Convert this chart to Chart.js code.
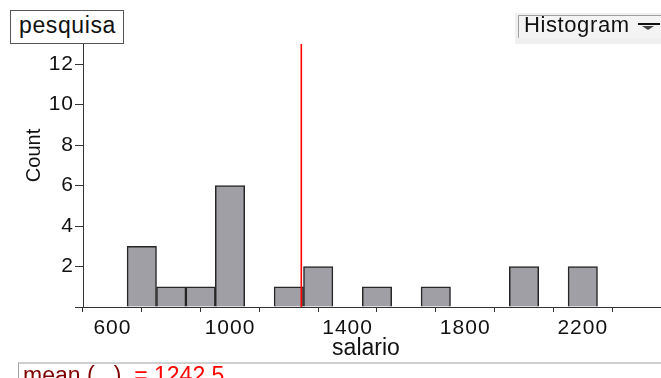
<!DOCTYPE html>
<html>
<head>
<meta charset="utf-8">
<title>pesquisa – salario</title>
<script src="https://cdn.jsdelivr.net/npm/chart.js@4/dist/chart.umd.min.js"></script>
<style>
  html, body { margin: 0; padding: 0; background: #fff; overflow: hidden; }
  body { width: 661px; height: 378px; position: relative; font-family: "Liberation Sans", Arial, sans-serif; }
  #wrap { position: absolute; left: 0; top: 0; width: 661px; height: 378px; }
  #dataset-name {
    position: absolute; left: 10px; top: 10px; width: 114px; height: 34px;
    box-sizing: border-box; border: 1px solid #555; background: #fff;
    padding-left: 8px; font-size: 23px; line-height: 29px; letter-spacing: 0.6px; color: #111;
  }
  #type-panel {
    position: absolute; left: 515px; top: 13px; width: 146px; height: 31px; background: #f0f0f0;
  }
  #type-box {
    position: absolute; left: 3px; top: 2px; width: 160px; height: 23px; box-sizing: border-box;
    border-top: 1px solid #a0a0a0; border-left: 1px solid #a0a0a0; background: #f4f4f4;
    padding-left: 5px; font-size: 22px; line-height: 17px; letter-spacing: 0.6px; color: #111;
  }
  #type-icon { position: absolute; left: 123px; top: 10px; }
  #summary {
    position: absolute; left: 18px; top: 362px; width: 660px; height: 30px; box-sizing: border-box;
    border-top: 2px solid #cfcfcf; border-left: 1px solid #a0a0a0;
    padding-left: 4px; font-size: 23px; line-height: 23px; white-space: pre;
  }
  #summary .fn { color: #800000; }
  #summary .val { color: #ff0000; }
</style>
</head>
<body>
<div id="wrap"><canvas id="chart"></canvas></div>
<div id="dataset-name">pesquisa</div>
<div id="type-panel">
  <div id="type-box">Histogram</div>
  <svg id="type-icon" width="24" height="10" viewBox="0 0 24 10">
    <rect x="0" y="0" width="22" height="2" fill="#111"></rect>
    <polygon points="4,3 16,3 10,7" fill="#444"></polygon>
  </svg>
</div>
<div id="summary"><span class="fn">mean (   )</span>  <span class="val" id="mean-text"></span></div>

<script>
// Salary histogram: lower edge of each non-empty bin and its count
const binLow = [650, 750, 850, 950, 1150, 1250, 1450, 1650, 1950, 2150];
const counts = [3, 1, 1, 6, 1, 2, 1, 1, 2, 2];
const binWidth = 100;
const meanValue = 1242.5;

// Axis ticks and their labels
const xTicks = [600, 800, 1000, 1200, 1400, 1600, 1800, 2000, 2200, 2400];
const xTickLabels = ['600', '', '1000', '', '1400', '', '1800', '', '2200', ''];
const yTicks = [0, 2, 4, 6, 8, 10, 12];
const yTickLabels = ['', '2', '4', '6', '8', '10', '12'];

const xTitle = 'salario';
const yTitle = 'Count';

document.getElementById('mean-text').textContent = '= ' + meanValue;

const FONT = '"Liberation Sans", Arial, sans-serif';
const AXIS_COLOR = '#333';

// Slightly looser tracking for the tick labels
const tracking = {
  id: 'tracking',
  beforeDraw(chart) { chart.ctx.letterSpacing = '1px'; }
};

// Vertical red line at the mean
const meanLine = {
  id: 'meanLine',
  afterDatasetsDraw(chart) {
    const { ctx, chartArea, scales } = chart;
    const x = scales.x.getPixelForValue(meanValue);
    ctx.save();
    ctx.strokeStyle = '#ff0000';
    ctx.lineWidth = 1.6;
    ctx.beginPath();
    ctx.moveTo(x, chartArea.top);
    ctx.lineTo(x, chartArea.bottom);
    ctx.stroke();
    ctx.restore();
  }
};

// Axis titles
const axisTitles = {
  id: 'axisTitles',
  afterDraw(chart) {
    const { ctx, chartArea } = chart;
    ctx.save();
    ctx.letterSpacing = '0px';
    ctx.fillStyle = '#111';
    ctx.textAlign = 'center';
    ctx.textBaseline = 'alphabetic';
    ctx.font = '23px ' + FONT;
    ctx.fillText(xTitle, chartArea.left + 283, chartArea.bottom + 48);
    ctx.translate(40, chartArea.top + 111.5);
    ctx.rotate(-Math.PI / 2);
    ctx.font = '20px ' + FONT;
    ctx.fillText(yTitle, 0, 0);
    ctx.restore();
  }
};

new Chart(document.getElementById('chart'), {
  type: 'bar',
  data: {
    datasets: [{
      label: yTitle,
      data: binLow.map((lo, i) => ({ x: lo + binWidth / 2, y: counts[i] })),
      backgroundColor: '#a09fa5',
      borderColor: '#262626',
      borderWidth: 1.5,
      barPercentage: 1,
      categoryPercentage: 1,
      grouped: false
    }]
  },
  options: {
    responsive: true,
    maintainAspectRatio: false,
    animation: false,
    events: [],
    layout: { padding: { top: 44, left: 0, right: 0, bottom: 0 } },
    plugins: { legend: { display: false }, tooltip: { enabled: false }, title: { display: false } },
    scales: {
      x: {
        type: 'linear',
        min: 500,
        max: 2466,
        offset: false,
        afterBuildTicks(scale) { scale.ticks = xTicks.map(v => ({ value: v })); },
        afterFit(scale) { scale.height = 71; },
        ticks: {
          autoSkip: false,
          maxRotation: 0,
          padding: 4,
          color: '#111',
          font: { family: FONT, size: 21 },
          callback: (v) => xTickLabels[xTicks.indexOf(v)] ?? ''
        },
        grid: { drawOnChartArea: false, drawTicks: true, tickLength: 5, color: AXIS_COLOR, lineWidth: 1 },
        border: { display: true, color: AXIS_COLOR, width: 1 }
      },
      y: {
        type: 'linear',
        min: 0,
        max: 13,
        afterBuildTicks(scale) { scale.ticks = yTicks.map(v => ({ value: v })); },
        afterFit(scale) { scale.width = 83; },
        ticks: {
          autoSkip: false,
          padding: 1,
          color: '#111',
          font: { family: FONT, size: 21 },
          callback: (v) => yTickLabels[yTicks.indexOf(v)] ?? ''
        },
        grid: { drawOnChartArea: false, drawTicks: true, tickLength: 8, color: AXIS_COLOR, lineWidth: 1 },
        border: { display: true, color: AXIS_COLOR, width: 1 }
      }
    }
  },
  plugins: [tracking, meanLine, axisTitles]
});
</script>
</body>
</html>
